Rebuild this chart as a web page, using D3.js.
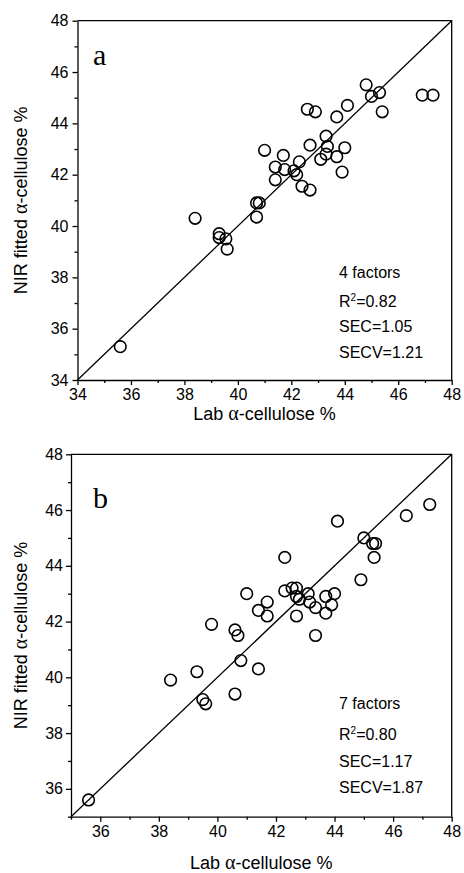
<!DOCTYPE html>
<html>
<head>
<meta charset="utf-8">
<script src="https://cdn.jsdelivr.net/npm/d3@7"></script>
<style>
  body { margin: 0; background: #fff; }
  svg { display: block; }
  .tick text { font-family: Arial, "Liberation Sans", sans-serif; font-size: 16px; fill: #000; }
  .domain, .tick line { stroke: #000; stroke-width: 1.3; }
</style>
</head>
<body>
<svg id="drawing_region"></svg>
<script>
// panel a: 4 factors
const labA = [35.6, 38.4, 39.3, 39.3, 39.55, 39.6, 40.7, 40.8, 40.7, 41.0, 41.4, 41.4, 41.7, 41.75,
              42.1, 42.2, 42.3, 42.4, 42.7, 42.6, 42.9, 42.7, 43.1, 43.3, 43.35, 43.3, 43.7, 43.7,
              44.1, 44.0, 43.9, 44.8, 45.0, 45.3, 45.4, 46.9, 47.3];
const nirA = [35.3, 40.3, 39.7, 39.55, 39.5, 39.1, 40.9, 40.9, 40.35, 42.95, 42.3, 41.8, 42.75, 42.2,
              42.15, 42.0, 42.5, 41.55, 41.4, 44.55, 44.45, 43.15, 42.6, 43.5, 43.1, 42.8, 44.25, 42.7,
              44.7, 43.05, 42.1, 45.5, 45.05, 45.2, 44.45, 45.1, 45.1];
const statsA = ['4 factors', '=0.82', 'SEC=1.05', 'SECV=1.21'];

// panel b: 7 factors
const labB = [35.6, 38.4, 39.3, 39.5, 39.6, 39.8, 40.6, 40.7, 40.8, 40.6, 41.0, 41.4, 41.4, 41.7, 41.7,
              42.3, 42.3, 42.55, 42.7, 42.7, 42.8, 42.7, 43.1, 43.15, 43.35, 43.35, 43.7, 43.7, 44.0,
              43.9, 44.1, 44.9, 45.0, 45.3, 45.4, 45.35, 46.45, 47.25];
const nirB = [35.6, 39.9, 40.2, 39.2, 39.05, 41.9, 41.7, 41.5, 40.6, 39.4, 43.0, 42.4, 40.3, 42.7, 42.2,
              44.3, 43.1, 43.2, 43.2, 42.9, 42.8, 42.2, 43.0, 42.7, 42.5, 41.5, 42.9, 42.3, 43.0,
              42.6, 45.6, 43.5, 45.0, 44.8, 44.8, 44.3, 45.8, 46.2];
const statsB = ['7 factors', '=0.80', 'SEC=1.17', 'SECV=1.87'];

const ticksA = [34, 36, 38, 40, 42, 44, 46, 48];
const minorA = [35, 37, 39, 41, 43, 45, 47];
const ticksB = [36, 38, 40, 42, 44, 46, 48];
const minorB = [35, 37, 39, 41, 43, 45, 47];

const svg = d3.select('#drawing_region')
    .attr('width', 464)
    .attr('height', 873);

function drawPanel(cfg) {
    const g = svg.append('g')
        .attr('transform', `translate(${cfg.left}, ${cfg.top})`);
    const w = cfg.width, h = cfg.height;

    const xscale = d3.scaleLinear().domain(cfg.domain).range([0, w]);
    const yscale = d3.scaleLinear().domain(cfg.domain).range([h, 0]);

    // frame top/right
    g.append('path')
        .attr('d', `M0,0H${w}V${h}`)
        .attr('fill', 'none')
        .attr('stroke', '#000')
        .attr('stroke-width', 1.3);

    // minor ticks
    g.append('g')
        .attr('transform', `translate(0, ${h})`)
        .call(d3.axisBottom(xscale).tickValues(cfg.minor).tickSize(3).tickFormat(''))
        .call(a => a.select('.domain').remove());
    g.append('g')
        .call(d3.axisLeft(yscale).tickValues(cfg.minor).tickSize(3).tickFormat(''))
        .call(a => a.select('.domain').remove());

    g.append('g')
        .attr('transform', `translate(0, ${h})`)
        .call(d3.axisBottom(xscale).tickValues(cfg.ticks).tickSize(5).tickPadding(4).tickSizeOuter(0));
    g.append('g')
        .call(d3.axisLeft(yscale).tickValues(cfg.ticks).tickSize(5).tickPadding(cfg.ypad).tickSizeOuter(0));

    // 1:1 line
    g.append('line')
        .attr('x1', xscale(cfg.domain[0])).attr('y1', yscale(cfg.domain[0]))
        .attr('x2', xscale(cfg.domain[1])).attr('y2', yscale(cfg.domain[1]))
        .attr('stroke', '#000')
        .attr('stroke-width', 1.3);

    g.selectAll('circle')
        .data(cfg.xs.map((x, i) => ({ x: x, y: cfg.ys[i] })))
        .join('circle')
        .attr('cx', d => xscale(d.x))
        .attr('cy', d => yscale(d.y))
        .attr('r', 5.8)
        .attr('fill', 'none')
        .attr('stroke', '#000')
        .attr('stroke-width', 1.6);

    // panel letter
    g.append('text')
        .attr('x', 93 - cfg.left)
        .attr('y', cfg.letterY)
        .attr('font-family', '"Liberation Serif", "Times New Roman", serif')
        .attr('font-size', 30)
        .text(cfg.letter);

    // stats block
    const tx = 339 - cfg.left;
    const sfont = 'Arial, "Liberation Sans", sans-serif';
    cfg.stats.forEach((s, i) => {
        const t = g.append('text')
            .attr('x', tx)
            .attr('y', h + cfg.statY[i])
            .attr('font-family', sfont)
            .attr('font-size', 16);
        if (i === 1) {
            t.append('tspan').text('R');
            t.append('tspan').attr('font-size', 10).attr('dy', -6).text('2');
            t.append('tspan').attr('dy', 6).text(s);
        } else {
            t.text(s);
        }
    });

    // axis titles
    const xt = g.append('text')
        .attr('x', w / 2)
        .attr('y', cfg.xtitleY)
        .attr('text-anchor', 'middle')
        .attr('font-family', sfont)
        .attr('font-size', 18);
    xt.append('tspan').text('Lab ');
    xt.append('tspan').attr('font-family', '"Liberation Serif", serif').attr('font-size', 20).text('α');
    xt.append('tspan').text('-cellulose %');

    const yt = g.append('text')
        .attr('transform', `translate(${27 - cfg.left}, ${h / 2}) rotate(-90)`)
        .attr('text-anchor', 'middle')
        .attr('font-family', sfont)
        .attr('font-size', 18);
    yt.append('tspan').text('NIR fitted ');
    yt.append('tspan').attr('font-family', '"Liberation Serif", serif').attr('font-size', 20).text('α');
    yt.append('tspan').text('-cellulose %');
}

drawPanel({
    left: 77.5, top: 20.7, width: 374.2, height: 359.3,
    domain: [34, 48], ticks: ticksA, minor: minorA, ypad: 4,
    xs: labA, ys: nirA, letter: 'a', letterY: 44,
    stats: statsA, statY: [-101.5, -72.5, -48, -21.5], xtitleY: 399
});

drawPanel({
    left: 71, top: 454.3, width: 380.7, height: 362.4,
    domain: [35, 48], ticks: ticksB, minor: minorB, ypad: 3,
    xs: labB, ys: nirB, letter: 'b', letterY: 54,
    stats: statsB, statY: [-107.5, -77, -50, -24], xtitleY: 415
});
</script>
</body>
</html>
